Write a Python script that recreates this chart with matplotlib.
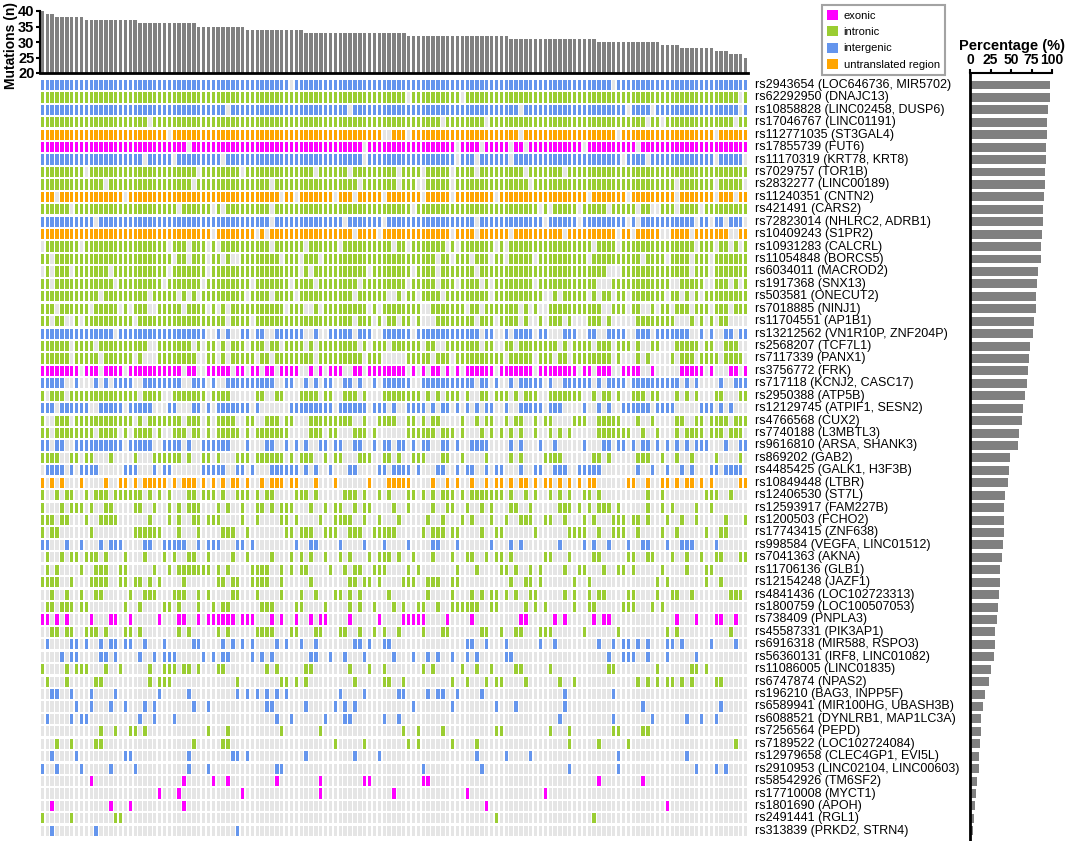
import numpy as np
import matplotlib
matplotlib.use("Agg")
import matplotlib.pyplot as plt
from matplotlib.patches import Patch

plt.rcParams['font.family'] = ['Liberation Sans', 'DejaVu Sans']

n_samples = 145

# mutations per sample (samples sorted), given as level + number of samples at that level
mut_levels = [40, 39, 38, 37, 36, 35, 34, 33, 32, 31, 30, 29, 28, 27, 26, 25]
mut_repeat = [1, 2, 6, 11, 12, 10, 12, 21, 21, 18, 13, 4, 7, 3, 3, 1]

snp_labels = [
    "rs2943654 (LOC646736, MIR5702)", "rs62292950 (DNAJC13)", "rs10858828 (LINC02458, DUSP6)",
    "rs17046767 (LINC01191)", "rs112771035 (ST3GAL4)", "rs17855739 (FUT6)",
    "rs11170319 (KRT78, KRT8)", "rs7029757 (TOR1B)", "rs2832277 (LINC00189)",
    "rs11240351 (CNTN2)", "rs421491 (CARS2)", "rs72823014 (NHLRC2, ADRB1)",
    "rs10409243 (S1PR2)", "rs10931283 (CALCRL)", "rs11054848 (BORCS5)",
    "rs6034011 (MACROD2)", "rs1917368 (SNX13)", "rs503581 (ONECUT2)",
    "rs7018885 (NINJ1)", "rs11704551 (AP1B1)", "rs13212562 (VN1R10P, ZNF204P)",
    "rs2568207 (TCF7L1)", "rs7117339 (PANX1)", "rs3756772 (FRK)",
    "rs717118 (KCNJ2, CASC17)", "rs2950388 (ATP5B)", "rs12129745 (ATPIF1, SESN2)",
    "rs4766568 (CUX2)", "rs7740188 (L3MBTL3)", "rs9616810 (ARSA, SHANK3)",
    "rs869202 (GAB2)", "rs4485425 (GALK1, H3F3B)", "rs10849448 (LTBR)",
    "rs12406530 (ST7L)", "rs12593917 (FAM227B)", "rs1200503 (FCHO2)",
    "rs17743415 (ZNF638)", "rs998584 (VEGFA, LINC01512)", "rs7041363 (AKNA)",
    "rs11706136 (GLB1)", "rs12154248 (JAZF1)", "rs4841436 (LOC102723313)",
    "rs1800759 (LOC100507053)", "rs738409 (PNPLA3)", "rs45587331 (PIK3AP1)",
    "rs6916318 (MIR588, RSPO3)", "rs56360131 (IRF8, LINC01082)", "rs11086005 (LINC01835)",
    "rs6747874 (NPAS2)", "rs196210 (BAG3, INPP5F)", "rs6589941 (MIR100HG, UBASH3B)",
    "rs6088521 (DYNLRB1, MAP1LC3A)", "rs7256564 (PEPD)", "rs7189522 (LOC102724084)",
    "rs12979658 (CLEC4GP1, EVI5L)", "rs2910953 (LINC02104, LINC00603)", "rs58542926 (TM6SF2)",
    "rs17710008 (MYCT1)", "rs1801690 (APOH)", "rs2491441 (RGL1)",
    "rs313839 (PRKD2, STRN4)",
]

# region class per SNP, ten rows per chunk:
# x = exonic, i = intronic, g = intergenic, u = untranslated region
snp_class = ("gigiuxgiiu"
             "iguiiiiiii"
             "giixgigiig"
             "iguiiiigii"
             "iiixiggiig"
             "ggiiggxxxi"
             "g")

# percentage of samples carrying each SNP (right panel)
snp_pct = [98, 97, 95, 94, 94, 93, 93, 92, 91, 90,
           89, 89, 88, 87, 86, 83, 82, 81, 80, 78,
           77, 73, 72, 71, 69, 67, 65, 63, 60, 59,
           49, 47, 46, 43, 42, 41, 41, 40, 39, 37,
           36, 35, 34, 33, 31, 30, 29, 25, 23, 18,
           16, 14, 13, 12, 11, 11, 8, 7, 6, 5,
           4]

# samples (column index) carrying each SNP, as ranges
snp_cells = [
    "0-50,52-116,118-144",
    "0-74,76-85,87-142,144",
    "0-37,39-62,64-97,99-119,121-124,126-142,144",
    "0-21,23-81,83-90,92-123,125-126,128-141,143-144",
    "0-25,27-69,72-74,76-97,99-117,119-137,139-144",
    "0-29,31-65,67-84,86-89,91-95,97-98,100-110,112-121,123-144",
    "0-20,22-26,28-36,38-65,67-84,86-88,90-95,97-118,120-123,125-137,139-143",
    "0-8,10-31,33-40,42-55,57-62,64-72,74-77,79-83,85-88,90-98,100-106,108-144",
    "0-12,14-30,32-46,48-64,66-72,74-76,79-83,85-99,101-129,131-137,139-143",
    "0-2,4-16,18-48,50-51,53-59,61-63,65-69,71-77,79-83,85-92,94-111,113-119,121-129,131-137,139-141,143-144",
    "0-5,7-27,29-34,36,38-46,48-75,77-101,103,105-109,111-115,117-121,123-124,127-129,131-134,136-144",
    "0-10,12-46,48-61,63-69,71-88,90-102,104-109,111-119,121,123-133,135-136,138-139,141-143",
    "0-34,36-43,45,47-63,65-68,70-83,85-88,90-95,97-106,108-117,119-120,122-126,129-132,134-140,143-144",
    "1-7,9-25,27-29,31-33,35,37-46,48-53,55-60,62-71,73-74,76-82,84,86-92,94,96-112,114-117,119-133,135-137,139-140,142,144",
    "0-1,3-26,28-29,31-33,35-36,38,41-48,50-52,54-56,58-80,82-83,85-87,89-91,93-94,96-100,102-111,113-122,124-127,129-132,134-136,138-144",
    "1,3-5,7-13,15-25,27-33,35-52,54,56-66,68-75,77-80,82-88,90-115,119-132,134-136,138-144",
    "0-1,3-14,16-24,26-32,34-42,44-50,52-55,57-64,66-74,76-80,82-84,86-89,91,93-100,102-113,117-128,131-135,138-140,142,144",
    "0-11,13-21,23-27,29,31,33-41,43-46,48-51,53-63,65-70,73,75-76,78-81,83-91,93-102,105,107-111,113,115-116,118-119,121-127,129-130,132,134,136-144",
    "0-2,4-9,11-15,17,19-21,24-28,30-33,35,37,39-49,51-53,56,58-66,68,70-77,80-86,88-89,91-97,99,101,104-114,117-119,121-122,125,127-128,130-132,134-136,138-140,142-144",
    "0-1,3-4,7,9-18,20-37,39-42,44-63,65-67,69,71-72,74-75,77,81-88,90-92,94-97,99,102,104-106,108,112-114,116,122-129,133,135,137,139-140",
    "0-14,16-33,36,38,41-42,44-45,48-53,56,59-63,65-67,70-75,77-89,91-92,95,97-100,102-103,107-109,112-113,116-119,122-124,126-132,135,137,140-141,143-144",
    "0-5,7-10,12-21,24-30,32,34-35,37,39-41,43-45,47-48,50-53,55,57-64,66,68-70,72-77,79-80,83-89,91-92,95-96,98-105,107,109-112,114-116,118-120,122,125-126,130-134,136-137,140-142",
    "0-5,7-11,13-18,20,24-31,34-35,37,39-43,45-46,48-55,57-65,67-69,75-79,81-83,85-94,96-100,102-104,106-107,109-116,118,122,124,129,131-133,135-138,140-143",
    "0-7,9-11,13-16,18-28,30-31,34-38,40-41,43-44,46-47,49-52,55,57,59-61,64-65,67-74,76,78,80-81,83,85,87-92,94-100,102-109,111-112,114-116,119-122,125,131-135,137,141-142,144",
    "0-4,7,11,13,15-18,21-28,31-33,35,38-47,50-51,54,56,58-59,62-63,65,68,70-75,78-88,90-91,93,96,98-102,104,107-112,114,116-119,121-130,132,134,139,142-144",
    "0,2-4,6-19,21-24,27-33,35-38,44-45,48-49,53-56,58-59,62-64,66,70-77,79,81,83-85,87,90-91,93-95,97,99-101,104-110,113,115-116,118,121-123,125-126,130,132,134,138-139,143-144",
    "0-2,4-9,12-16,18-22,26-27,31-32,34,36-42,44,51-59,61-66,68-70,72,75-78,80,82-83,85,87,89,91-92,95,98-102,104-106,111,114,116,119-124,126-129,135-137,139,141",
    "0,3-5,7-18,20,22-28,30-32,34,36-39,42-43,46-48,50-51,55-63,66,69-72,75-76,78,80-81,86,89,91-92,95,97-98,101,103-104,109-111,114-118,122,125,130-131,134-135,137-140,142-144",
    "0-1,3-10,12-15,17,19-22,24,27-29,31-32,34,36-40,42,44-50,55-57,59-60,64-66,68,75-80,82-84,86,90,92,94,96,98,101,104,106,108,114-120,123,126,130,132-135,137-139,141-143",
    "0-1,3-4,7-16,18-22,25-28,30,33-38,42,46-47,50,52,54,57-58,60-61,64-65,68,70-71,73-74,76,78-79,82-83,85,88-91,96,98,102,105,111,115-116,118-119,121,123-124,126,128,130,132,134-136,140,143-144",
    "0-3,6-7,9-10,14,19,23-28,30,33-34,36,40-42,44-49,51,53-55,58,60-61,65-67,70-71,73,76-78,82-83,86,91,96,98,103-106,113-114,116,122-124,127,130,133,138,143",
    "1-4,6,8-11,17-19,23,25-26,33-37,40-41,43,47-52,54,56,59,63-64,69-70,72-75,77,81-82,85,87-88,91,93-94,98,101-102,105-107,110-114,122,125,128,131,133,137-138,140-143",
    "0,2,4,8,13,16-17,19,21-25,27,29-31,33,35,37,39-40,42,45,47-49,51-52,56,60,67,71-75,80,83,85,88,91,93-94,96,98-99,101,103-104,106,108,110,112-113,120-121,124,127-128,130,132-133,135,137,143-144",
    "0,3,5-6,9,11-13,15-20,22,24,26,30-31,33-35,37,40-42,44,46-47,52-54,56,62-64,66,69,71,75-76,78,80,82-84,86,88-94,96,99,101,104,106,108,111-112,114,124,127,136-138,141",
    "0,4,6-8,10,13-14,19-20,23,26,28,30-32,36,38,41,44-45,47,49-51,55,58,60-61,64,66-67,72,75,80,83-84,87,90,92,96-97,100,106-108,110,112,114-116,118,124,127,129,134,137",
    "0-2,4-5,9,12-15,22,26,28,31-32,34-36,41,44,49-50,52,57,60-63,66,69,73,79,82,86,88,92,95,98-100,103-104,107,111,113,117-119,121-122,124,128,131,134,140,144",
    "0,2-3,10,19-24,28,32,37-39,42,50-51,53-55,58-60,63-65,68-72,78,80-82,84-85,90,93-94,101,108-111,114,117-119,122,127,130,136,139-140",
    "0-1,5,8,12,14-16,21-22,25-29,32,34-36,40-41,43,52,55-56,61,66,70,75,80-81,85,92,96,98,106,111,113,116,120,123-124,128,131-133,138",
    "1,4,6-7,9-11,13,17,21,25,27,30-31,34,39,42,47,51,53,55,58,61,63,67,69-71,73,76,80,84,87-88,91,93-94,96,103-104,108,113-114,120-121,124-125,129,132,135,138-139,143-144",
    "1,3,8,11-13,16-17,23,26,28-34,36,38,43-46,49,51,53-54,59,62,64-65,68-70,75,77,85,89,94-95,97,100,102,107,110-111,115,118-119,121,127,132,136-137",
    "0-3,6,10-13,16-17,19-20,22,24,29,36-37,39-40,43-46,49,55,63-64,66-67,69,74-76,79-81,84-85,96,99-100,102,109,112,126,128,136,139",
    "2,5,8,11-12,18,21-23,27-29,32,34,39-40,44,49,53,56,60-61,63,65,71,79,84,88,90,92-93,95,97,100-101,107,109,112,114-115,120-121,126,129-130,133,141-143",
    "1-2,4-6,8-9,17,20,25-26,28,32,35,37-38,45-47,52-53,58,63,65,68,72,74,77-78,81,84-89,92-93,99,101,103,109,112-113,119-121,125,127",
    "0-1,3,5,10,14-15,18,24,28-29,32,34-39,41-43,47,49,52,55,57-58,63,69,74-78,83,88,98-99,105,107,113,115-116,130,134,138-139,142",
    "2-3,5-6,9-11,13,17-18,20,28,30,36,38,44-47,51-52,56-57,61-62,65,68,70,73,78,82-83,90-91,94,97-98,102-104,111,118,128,130,141",
    "1,6-7,9,12,14-15,17-18,21,25,31-32,37,39,41,43,48,50,53,56,64-65,67,70-71,87-88,91,95,102,105,114,117,119-120,122,124,128-129,131,137,142",
    "4,6-7,12-13,15,20,23,25-27,33,35,37-38,43,45,47,55-56,59,62,66,72,76,79,81,84,87,89,95-96,116,119-121,124,128,134",
    "0,5,7-9,13,16,22,25-27,29-30,32,36-37,46,48,54-55,63,67,70,78,80,86,89,92,97-98,104,116-117,126,133-134,136",
    "1,5,11-12,22,24-26,40,49-50,52,54,64,70-71,74,84,87,91,93-94,99,106,109,122,124,126,128-129,131,133,138-139",
    "2-3,6,10,15,24,30,40,42,44,46,48,50,61,66,73-74,79,81-82,85,90,107,117",
    "7,10,14,17,21,23,31,34,46-47,54,60,62,64,76,84,93,97,107,123,139",
    "1,6,8-9,20,23,27,48,51,58,62-63,70,73,106,117,125,132,135,138",
    "12,15,18-19,21,34,38,49,57,74,77,82,93-94,104,108,117-118,123-124",
    "3,6,11-12,31,37-38,60,66,75,77,84,89,108,114,120,142",
    "2,7,17-18,30,39-40,42,54,64,69,89,95,100,118,132",
    "0,3,8,14,19,30,34,48-49,78,90,108,118,134,138,140",
    "10,29,35,38,48,57,66-67,78-79,114,123",
    "24,28,41,57,72,87,103",
    "2,14,18,29,91,128",
    "0,6,15-16,93,113",
    "2,11,40",
]

class_colors = {'x': '#FF00FF', 'i': '#9ACD32', 'g': '#6495ED', 'u': '#FFA500'}
class_names = {'x': 'exonic', 'i': 'intronic', 'g': 'intergenic', 'u': 'untranslated region'}
empty_color = '#E5E5E5'
bar_color = '#808080'


def parse_cells(spec):
    row = np.zeros(n_samples, dtype=bool)
    for part in spec.split(','):
        if '-' in part:
            a, b = part.split('-')
            row[int(a):int(b) + 1] = True
        else:
            row[int(part)] = True
    return row


W, H = 1065, 841
fig = plt.figure(figsize=(W / 100, H / 100), dpi=100)


def px_axes(left, top, right, bottom):
    # axes from a pixel box (top-left origin)
    return fig.add_axes([left / W, 1 - bottom / H, (right - left) / W, (bottom - top) / H])


n_rows = len(snp_labels)
row_pitch = 12.43
row0_y = 85.0
grid_top = row0_y - row_pitch / 2
grid_bottom = row0_y + (n_rows - 0.5) * row_pitch

# ---- top bar chart: mutations per sample ----
mut_values = np.repeat(mut_levels, mut_repeat)
ax_top = px_axes(40, 11, 748, 73)
ax_top.bar(np.arange(n_samples), mut_values, width=0.72, color=bar_color, linewidth=0)
ax_top.set_xlim(-0.5, n_samples - 0.5)
ax_top.set_ylim(20, 40)
ax_top.set_yticks([20, 25, 30, 35, 40])
ax_top.set_xticks([])
for lbl in ax_top.get_yticklabels():
    lbl.set_fontweight('bold')
ax_top.tick_params(axis='y', labelsize=10.5, width=1.5, length=3, pad=1)
for s in ['top', 'right']:
    ax_top.spines[s].set_visible(False)
ax_top.spines['left'].set_linewidth(1.5)
ax_top.spines['bottom'].set_linewidth(2)
ax_top.set_ylabel('Mutations (n)', fontsize=10, fontweight='bold')
ax_top.yaxis.set_label_coords(-22 / 708, 0.45)

# ---- main grid ----
ax = px_axes(40, grid_top, 748, grid_bottom)
cols = np.arange(n_samples)
for r, spec in enumerate(snp_cells):
    present = parse_cells(spec)
    colors = [class_colors[snp_class[r]] if p else empty_color for p in present]
    ax.bar(cols, 0.82, bottom=r - 0.41, width=0.7, color=colors, linewidth=0)
    ax.text(n_samples + 0.9, r, snp_labels[r], va='center', ha='left', fontsize=9, clip_on=False)
ax.set_xlim(-0.5, n_samples - 0.5)
ax.set_ylim(n_rows - 0.5, -0.5)
ax.axis('off')

# ---- right panel: percentage ----
pct_top, pct_bottom = 73, 840
ax_pct = px_axes(970, pct_top, 1052, pct_bottom)
ax_pct.barh(np.arange(n_rows), snp_pct, height=0.72, color=bar_color, linewidth=0)
ax_pct.set_ylim((pct_bottom - row0_y) / row_pitch, (pct_top - row0_y) / row_pitch)
ax_pct.set_xlim(0, 100)
ax_pct.xaxis.tick_top()
ax_pct.set_xticks([0, 25, 50, 75, 100])
for lbl in ax_pct.get_xticklabels():
    lbl.set_fontweight('bold')
ax_pct.tick_params(axis='x', labelsize=10, width=1.5, length=3, pad=1)
ax_pct.set_yticks([])
for s in ['bottom', 'right']:
    ax_pct.spines[s].set_visible(False)
ax_pct.spines['left'].set_linewidth(2)
ax_pct.spines['top'].set_linewidth(1.5)
fig.text(1012 / W, 1 - 46 / H, 'Percentage (%)', ha='center', va='center',
         fontsize=10.5, fontweight='bold')

# ---- legend ----
handles = [Patch(facecolor=class_colors[k], label=class_names[k]) for k in ['x', 'i', 'g', 'u']]
leg = fig.legend(handles=handles, loc='upper left', bbox_to_anchor=(822 / W, 1 - 5 / H),
                 fontsize=8, frameon=True, fancybox=False, edgecolor='#8C8C8C',
                 handlelength=1.0, handleheight=1.0, handletextpad=0.5,
                 labelspacing=0.5, borderpad=0.45, borderaxespad=0)
leg.get_frame().set_linewidth(1.5)

fig.savefig('out.png', dpi=100)
